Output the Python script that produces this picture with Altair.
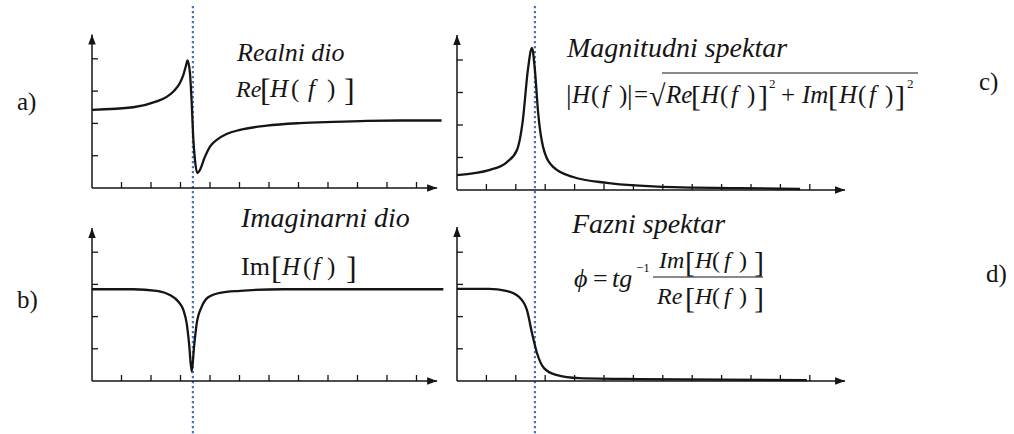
import altair as alt
import pandas as pd

# Response curves: frequency in x-tick steps from the vertical axis,
# value in y-tick steps above the horizontal axis.
re_f = [0, 1.40, 2.19, 2.53, 2.76, 2.98, 3.10, 3.18, 3.24, 3.32, 3.38, 3.43, 3.49, 3.57,
        3.66, 3.83, 4.00, 4.23, 4.56, 5.02, 5.92, 7.05, 8.18, 9.31, 10.44, 11.85]
re_v = [2.42, 2.50, 2.68, 2.82, 2.99, 3.25, 3.51, 3.77, 3.95, 3.56, 2.63, 1.59, 0.87, 0.46,
        0.56, 0.97, 1.28, 1.49, 1.67, 1.80, 1.93, 2.01, 2.05, 2.08, 2.09, 2.09]

im_f = [0, 1.40, 2.19, 2.64, 2.93, 3.10, 3.21, 3.29, 3.38, 3.46, 3.55, 3.72, 3.94, 4.34,
        5.02, 6.49, 11.91]
im_v = [2.85, 2.85, 2.80, 2.67, 2.46, 2.20, 1.79, 1.17, 0.29, 1.07, 1.79, 2.31, 2.60, 2.74,
        2.80, 2.85, 2.85]

mag_f = [0, 1.12, 1.70, 2.04, 2.24, 2.41, 2.55, 2.65, 2.76, 2.93, 3.27, 3.95, 5.10, 7.35,
         9.63, 11.67]
mag_v = [0.46, 0.62, 0.86, 1.23, 2.15, 3.69, 4.37, 3.69, 2.37, 1.32, 0.71, 0.40, 0.22, 0.09,
         0.06, 0.03]

ph_f = [0, 1.09, 1.67, 2.11, 2.38, 2.55, 2.72, 2.96, 3.37, 4.15, 6.19, 11.9]
ph_v = [2.86, 2.86, 2.80, 2.61, 2.20, 1.49, 0.87, 0.40, 0.19, 0.09, 0.06, 0.03]

# Resonance frequency marked by the dotted guide, in x-tick steps
f_res_left = 3.42
f_res_right = 2.65

INK = "#151515"
SERIF = "Liberation Serif, DejaVu Serif, Noto Serif, serif"


def panel(f, v, x0, dx, y0, dy, n_xticks, x_end, y_end, f_guide=None):
    xs = alt.Scale(domain=[0, 10], range=[x0, x0 + 10 * dx], nice=False, zero=False)
    ys = alt.Scale(domain=[0, 4], range=[y0, y0 - 4 * dy], nice=False, zero=False)

    def X(field):
        return alt.X(field, type="quantitative", scale=xs, axis=None)

    def Y(field):
        return alt.Y(field, type="quantitative", scale=ys, axis=None)

    layers = []
    if f_guide is not None:
        layers.append(
            alt.Chart(pd.DataFrame({"f": [f_guide]}))
            .mark_rule(color="#4472C4", strokeWidth=2.2, strokeDash=[2.2, 2.8])
            .encode(x=X("f"), y=alt.value(6), y2=alt.value(434))
        )
    axes_df = pd.DataFrame({"x": [0, 0], "x2": [x_end, 0], "y": [0, 0], "y2": [0, y_end]})
    layers.append(
        alt.Chart(axes_df)
        .mark_rule(color=INK, strokeWidth=1.5)
        .encode(x=X("x"), x2="x2:Q", y=Y("y"), y2="y2:Q")
    )
    layers.append(
        alt.Chart(pd.DataFrame({"x": [x_end], "y": [0]}))
        .mark_point(shape="M0,0L-2,-0.75L-2,0.75Z", size=100, filled=True,
                    color=INK, opacity=1, strokeWidth=0)
        .encode(x=X("x"), y=Y("y"))
    )
    layers.append(
        alt.Chart(pd.DataFrame({"x": [0], "y": [y_end]}))
        .mark_point(shape="M0,0L-0.75,2L0.75,2Z", size=100, filled=True,
                    color=INK, opacity=1, strokeWidth=0)
        .encode(x=X("x"), y=Y("y"))
    )
    layers.append(
        alt.Chart(pd.DataFrame({"k": list(range(1, n_xticks + 1)), "y": 0}))
        .mark_tick(orient="vertical", size=6, thickness=1.3, color=INK, opacity=1, yOffset=-3)
        .encode(x=X("k"), y=Y("y"))
    )
    layers.append(
        alt.Chart(pd.DataFrame({"k": [1, 2, 3, 4], "x": 0}))
        .mark_tick(orient="horizontal", size=6, thickness=1.3, color=INK, opacity=1, xOffset=3)
        .encode(x=X("x"), y=Y("k"))
    )
    layers.append(
        alt.Chart(pd.DataFrame({"f": f, "v": v}))
        .mark_line(color=INK, strokeWidth=2.3, interpolate="monotone")
        .encode(x=X("f"), y=Y("v"))
    )
    return layers


panel_a = panel(re_f, re_v, 92, 29.5, 188, 32.3, 11, 11.7, 4.75, f_res_left)
panel_b = panel(im_f, im_v, 92, 29.5, 381, 32.2, 11, 11.7, 4.75)
panel_c = panel(mag_f, mag_v, 457, 29.4, 190, 32.5, 12, 13.2, 4.77, f_res_right)
panel_d = panel(ph_f, ph_v, 457, 29.4, 381, 32.2, 12, 13.2, 4.78)

# Annotation text: (text, left x, baseline y, font size)
italic_txt = [
    ("Realni dio", 237, 61, 26),
    ("Re", 236, 97, 24), ("H", 270, 97, 25), ("f", 308, 97, 25),
    ("Imaginarni dio", 241, 227, 28),
    ("H", 282, 275, 25), ("f", 313, 275, 25),
    ("Magnitudni spektar", 567, 57, 28),
    ("H", 572, 103, 25), ("f", 602, 103, 25),
    ("Re", 666, 103, 25), ("H", 701, 103, 25), ("f", 731, 103, 25),
    ("Im", 802, 103, 25), ("H", 839, 103, 25), ("f", 869, 103, 25),
    ("Fazni spektar", 572, 233, 28),
    ("ϕ", 574, 287, 26), ("tg", 612, 287, 26),
    ("Im", 659, 268, 24), ("H", 695, 268, 24), ("f", 724, 268, 24),
    ("Re", 657, 304, 24), ("H", 695, 304, 24), ("f", 724, 304, 24),
]
upright_txt = [
    ("a)", 17, 110, 25), ("b)", 17, 308, 25), ("c)", 979, 90, 25), ("d)", 986, 282, 25),
    ("[", 260, 101, 32), ("(", 291, 97, 25), (")", 327, 97, 25), ("]", 344, 101, 32),
    ("Im", 241, 275, 26), ("[", 271, 279, 32), ("(", 303, 275, 25), (")", 327, 275, 25),
    ("]", 346, 279, 32),
    ("|", 566, 104, 28), ("(", 591, 103, 25), (")", 619, 103, 25), ("|", 627, 104, 28),
    ("=", 634, 103, 25), ("√", 649, 106, 30),
    ("[", 691, 106, 30), ("(", 720, 103, 25), (")", 747, 103, 25), ("]", 758, 106, 30),
    ("2", 769, 88, 13), ("+", 781, 103, 25),
    ("[", 828, 106, 30), ("(", 858, 103, 25), (")", 885, 103, 25), ("]", 895, 106, 30),
    ("2", 907, 88, 13),
    ("=", 593, 287, 26), ("−1", 636, 272, 13),
    ("[", 685, 272, 30), ("(", 712, 268, 24), (")", 739, 268, 24), ("]", 754, 272, 30),
    ("[", 685, 308, 30), ("(", 712, 304, 24), (")", 739, 304, 24), ("]", 754, 308, 30),
]
# Radical overline and fraction bar: (x start, x end, y)
strokes = [(662, 918, 73), (653, 763, 277)]


def text_layer(rows, style):
    df = pd.DataFrame(rows, columns=["t", "px", "py", "sz"])
    return (
        alt.Chart(df)
        .mark_text(font=SERIF, fontStyle=style, align="left", baseline="alphabetic", color=INK)
        .encode(
            x=alt.X("px:Q", scale=None, axis=None),
            y=alt.Y("py:Q", scale=None, axis=None),
            size=alt.Size("sz:Q", scale=None, legend=None),
            text="t:N",
        )
    )


stroke_layer = (
    alt.Chart(pd.DataFrame(strokes, columns=["x1", "x2", "y"]))
    .mark_rule(color=INK, strokeWidth=1.1)
    .encode(
        x=alt.X("x1:Q", scale=None, axis=None),
        x2="x2:Q",
        y=alt.Y("y:Q", scale=None, axis=None),
    )
)

chart = (
    alt.layer(
        *panel_a, *panel_b, *panel_c, *panel_d,
        text_layer(italic_txt, "italic"),
        text_layer(upright_txt, "normal"),
        stroke_layer,
    )
    .resolve_scale(x="independent", y="independent")
    .properties(width=1014, height=434, autosize="none", padding=0, background="white")
    .configure_view(stroke=None)
    .configure_text(font=SERIF)
)

chart.save("out.html", embed_options={"renderer": "svg", "actions": False})
